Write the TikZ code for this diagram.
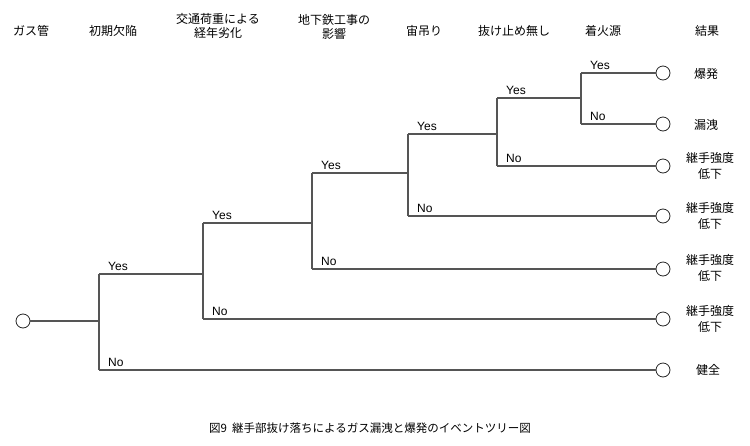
\documentclass[tikz,border=0pt]{standalone}
\usepackage{fontspec}
\setmainfont{Liberation Sans}
\newfontfamily\jp{Noto Sans CJK JP}
\usepackage{tikz}

\begin{document}
\begin{tikzpicture}[x=1pt,y=-1pt,
  branch/.style={draw=linegray, line width=1.1pt},
  leaf/.style={circle, draw=black!85, fill=white, line width=0.8pt, minimum size=14pt, inner sep=0pt},
  yn/.style={anchor=base west, xshift=9pt, yshift=4pt, inner sep=0pt, font=\fontsize{12}{14}\selectfont},
  head/.style={align=center, inner sep=0pt, font=\jp\fontsize{12}{14.5}\selectfont},
  result/.style={align=center, inner sep=0pt, font=\jp\fontsize{12}{16}\selectfont}]
\definecolor{linegray}{RGB}{85,85,85}
\useasboundingbox (0,0) rectangle (750,445);
\node[head] (h1) at (31,31) {ガス管};
\node[head] (h2) at (113,31) {初期欠陥};
\node[head] (h3) at (218,26) {交通荷重による\\経年劣化};
\node[head] (h4) at (334,27) {地下鉄工事の\\影響};
\node[head] (h5) at (424,31) {宙吊り};
\node[head] (h6) at (514,31) {抜け止め無し};
\node[head] (h7) at (603,31) {着火源};
\node[head] (h8) at (707,31) {結果};
\node[leaf] (s) at (23,321) {};
\coordinate (j1) at (99,321);
\coordinate (j1y) at (99,274);
\coordinate (j1n) at (99,370);
\coordinate (j2) at (203,274);
\coordinate (j2y) at (203,223);
\coordinate (j2n) at (203,319);
\coordinate (j3) at (312,223);
\coordinate (j3y) at (312,173);
\coordinate (j3n) at (312,269);
\coordinate (j4) at (408,173);
\coordinate (j4y) at (408,134);
\coordinate (j4n) at (408,216);
\coordinate (j5) at (497,134);
\coordinate (j5y) at (497,98);
\coordinate (j5n) at (497,166);
\coordinate (j6) at (581,98);
\coordinate (j6y) at (581,73);
\coordinate (j6n) at (581,124);
\node[leaf] (e1) at (663,73) {};
\node[leaf] (e2) at (663,124) {};
\node[leaf] (e3) at (663,166) {};
\node[leaf] (e4) at (663,216) {};
\node[leaf] (e5) at (663,269) {};
\node[leaf] (e6) at (663,319) {};
\node[leaf] (e7) at (663,370) {};
\draw[branch] (s) -- (j1);
\draw[branch] (j1y) -- (j1n);
\draw[branch] (j1y) -- (j2);
\draw[branch] (j1n) -- (e7);
\draw[branch] (j2y) -- (j2n);
\draw[branch] (j2y) -- (j3);
\draw[branch] (j2n) -- (e6);
\draw[branch] (j3y) -- (j3n);
\draw[branch] (j3y) -- (j4);
\draw[branch] (j3n) -- (e5);
\draw[branch] (j4y) -- (j4n);
\draw[branch] (j4y) -- (j5);
\draw[branch] (j4n) -- (e4);
\draw[branch] (j5y) -- (j5n);
\draw[branch] (j5y) -- (j6);
\draw[branch] (j5n) -- (e3);
\draw[branch] (j6y) -- (j6n);
\draw[branch] (j6y) -- (e1);
\draw[branch] (j6n) -- (e2);
\node[yn] (y1) at (j1y) {Yes};
\node[yn] (n1) at (j1n) {No};
\node[yn] (y2) at (j2y) {Yes};
\node[yn] (n2) at (j2n) {No};
\node[yn] (y3) at (j3y) {Yes};
\node[yn] (n3) at (j3n) {No};
\node[yn] (y4) at (j4y) {Yes};
\node[yn] (n4) at (j4n) {No};
\node[yn] (y5) at (j5y) {Yes};
\node[yn] (n5) at (j5n) {No};
\node[yn] (y6) at (j6y) {Yes};
\node[yn] (n6) at (j6n) {No};
\node[result] (r1) at (706,74) {爆発};
\node[result] (r2) at (706,125) {漏洩};
\node[result] (r3) at (710,166) {継手強度\\低下};
\node[result] (r4) at (710,216) {継手強度\\低下};
\node[result] (r5) at (710,268) {継手強度\\低下};
\node[result] (r6) at (710,319) {継手強度\\低下};
\node[result] (r7) at (708,370) {健全};
\node[head, font=\jp\fontsize{11.5}{14}\selectfont] (cap) at (370,428) {図9\ \ 継手部抜け落ちによるガス漏洩と爆発のイベントツリー図};
\end{tikzpicture}
\end{document}
